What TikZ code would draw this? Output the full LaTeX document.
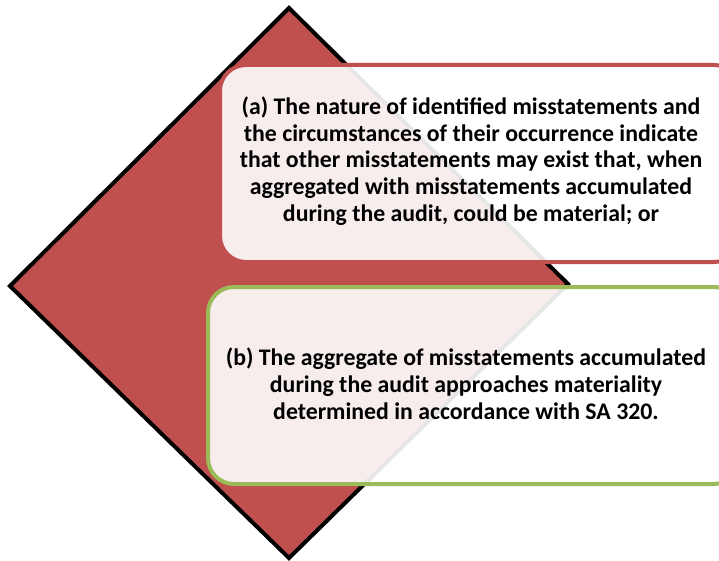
\documentclass[tikz,border=0pt]{standalone}
\usepackage{fontspec}
\setmainfont{Carlito}
\definecolor{dred}{HTML}{C0504D}
\definecolor{dgreen}{HTML}{9BBB59}
\tikzset{
  panel/.style={line width=4, fill=white, fill opacity=0.9, rounded corners=26},
  paneltext/.style={font=\bfseries\fontsize{23.8}{26.8}\selectfont, align=center, text opacity=1}
}
\begin{document}
\begin{tikzpicture}[x=1pt,y=-1pt]
\useasboundingbox (0,0) rectangle (719,561);
\clip (0,0) rectangle (719,561);
\draw[fill=dred, line width=4, line join=miter] (289,8) -- (568,284) -- (289,558) -- (10,286) -- cycle;
\draw[panel, draw=dred] (220,65) rectangle (740,262);
\draw[panel, draw=dgreen] (208,287) rectangle (740,484);
\node[paneltext] (a) at (471,161) {(a) The nature of identified misstatements and\\the circumstances of their occurrence indicate\\that other misstatements may exist that, when\\aggregated with misstatements accumulated\\during the audit, could be material; or};
\node[paneltext] (b) at (466,384) {(b) The aggregate of misstatements accumulated\\during the audit approaches materiality\\determined in accordance with SA 320.};
\end{tikzpicture}
\end{document}
